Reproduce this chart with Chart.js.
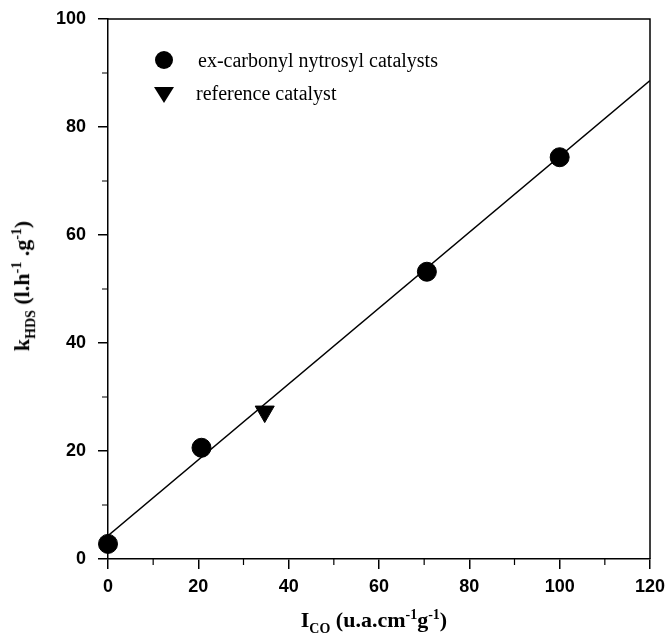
<!DOCTYPE html>
<html>
<head>
<meta charset="utf-8">
<script src="https://cdn.jsdelivr.net/npm/chart.js@4.4.0/dist/chart.umd.min.js"></script>
<style>
  body { margin: 0; background: #fff; }
  #wrap { position: relative; width: 667px; height: 642px; }
  .titulo { position: absolute; font-family: "Liberation Serif", "Times New Roman", serif; font-weight: bold; font-size: 22px; color: #000; white-space: nowrap; }
  .titulo sub, .titulo sup { font-size: 14px; }
  #tituloX { left: 374px; top: 622px; transform: translate(-50%, -50%); }
  #tituloY { left: 24px; top: 286px; transform: translate(-50%, -50%) rotate(-90deg); }
</style>
</head>
<body>
<div id="wrap">
  <canvas id="grafico"></canvas>
  <div class="titulo" id="tituloX">I<sub>CO</sub> (u.a.cm<sup>-1</sup>g<sup>-1</sup>)</div>
  <div class="titulo" id="tituloY">k<sub>HDS</sub> (l.h<sup>-1</sup> .g<sup>-1</sup>)</div>
</div>
<script>
// Datos
const icoCarbonilo = [0, 20.7, 70.6, 100];
const kCarbonilo = [2.8, 20.6, 53.2, 74.4];
const icoReferencia = [34.7];
const kReferencia = [27.3];
// Recta de ajuste (extremos)
const icoAjuste = [0, 120];
const kAjuste = [4.3, 88.6];

const ticksX = [0, 20, 40, 60, 80, 100, 120];
const ticksY = [0, 20, 40, 60, 80, 100];
const menoresX = [10, 30, 50, 70, 90, 110];
const menoresY = [10, 30, 50, 70, 90];

const nombres = ["ex-carbonyl nytrosyl catalysts", "reference catalyst"];

const puntos = (xs, ys) => xs.map((x, i) => ({ x: x, y: ys[i] }));

// Marco superior/derecho, ticks menores y leyenda
const extras = {
    id: 'extras',
    afterDraw(chart) {
        const ctx = chart.ctx;
        const a = chart.chartArea;
        const sx = chart.scales.x, sy = chart.scales.y;
        ctx.save();
        ctx.strokeStyle = '#000';
        ctx.lineWidth = 1.5;
        ctx.beginPath();
        ctx.moveTo(a.left, a.top);
        ctx.lineTo(a.right, a.top);
        ctx.lineTo(a.right, a.bottom);
        ctx.stroke();

        ctx.lineWidth = 1.2;
        ctx.beginPath();
        menoresX.forEach(v => {
            const px = sx.getPixelForValue(v);
            ctx.moveTo(px, a.bottom);
            ctx.lineTo(px, a.bottom + 6);
        });
        menoresY.forEach(v => {
            const py = sy.getPixelForValue(v);
            ctx.moveTo(a.left, py);
            ctx.lineTo(a.left - 6, py);
        });
        ctx.stroke();

        // leyenda
        ctx.fillStyle = '#000';
        ctx.beginPath();
        ctx.arc(164, 60, 9, 0, Math.PI * 2);
        ctx.fill();
        ctx.beginPath();
        ctx.moveTo(154, 87);
        ctx.lineTo(174, 87);
        ctx.lineTo(164, 103);
        ctx.closePath();
        ctx.fill();
        ctx.font = '20px "Liberation Serif", "Times New Roman", serif';
        ctx.textBaseline = 'middle';
        ctx.fillText(nombres[0], 198, 62);
        ctx.fillText(nombres[1], 196, 95);
        ctx.restore();
    }
};

const ctx = document.getElementById("grafico").getContext("2d");

new Chart(ctx, {
    data: {
        datasets: [
            {
                type: 'line',
                label: 'ajuste',
                data: puntos(icoAjuste, kAjuste),
                borderColor: '#000',
                borderWidth: 1.5,
                pointRadius: 0,
                fill: false
            },
            {
                type: 'scatter',
                label: nombres[0],
                data: puntos(icoCarbonilo, kCarbonilo),
                backgroundColor: '#000',
                borderColor: '#000',
                pointStyle: 'circle',
                pointRadius: 9.5,
                clip: false
            },
            {
                type: 'scatter',
                label: nombres[1],
                data: puntos(icoReferencia, kReferencia),
                backgroundColor: '#000',
                borderColor: '#000',
                pointStyle: 'triangle',
                rotation: 180,
                pointRadius: 11,
                clip: false
            }
        ]
    },
    options: {
        responsive: true,
        maintainAspectRatio: false,
        animation: false,
        layout: { padding: { left: 0, right: 17, top: 19, bottom: 0 } },
        plugins: { legend: { display: false }, tooltip: { enabled: false } },
        scales: {
            x: {
                type: 'linear',
                min: 0, max: 120,
                afterBuildTicks: s => { s.ticks = ticksX.map(v => ({ value: v })); },
                afterFit: s => { s.height = 83; s.paddingLeft = 0; s.paddingRight = 0; },
                ticks: {
                    color: '#000',
                    padding: 7,
                    font: { family: '"Liberation Sans", Arial, sans-serif', size: 18, weight: 'bold' }
                },
                grid: { drawOnChartArea: false, drawTicks: true, tickLength: 10, color: '#000', lineWidth: 1.5 },
                border: { display: true, color: '#000', width: 1.5 }
            },
            y: {
                type: 'linear',
                min: 0, max: 100,
                afterBuildTicks: s => { s.ticks = ticksY.map(v => ({ value: v })); },
                afterFit: s => { s.width = 108; s.paddingTop = 0; s.paddingBottom = 0; },
                ticks: {
                    color: '#000',
                    padding: 12,
                    font: { family: '"Liberation Sans", Arial, sans-serif', size: 18, weight: 'bold' }
                },
                grid: { drawOnChartArea: false, drawTicks: true, tickLength: 10, color: '#000', lineWidth: 1.5 },
                border: { display: true, color: '#000', width: 1.5 }
            }
        }
    },
    plugins: [extras]
});
</script>
</body>
</html>
